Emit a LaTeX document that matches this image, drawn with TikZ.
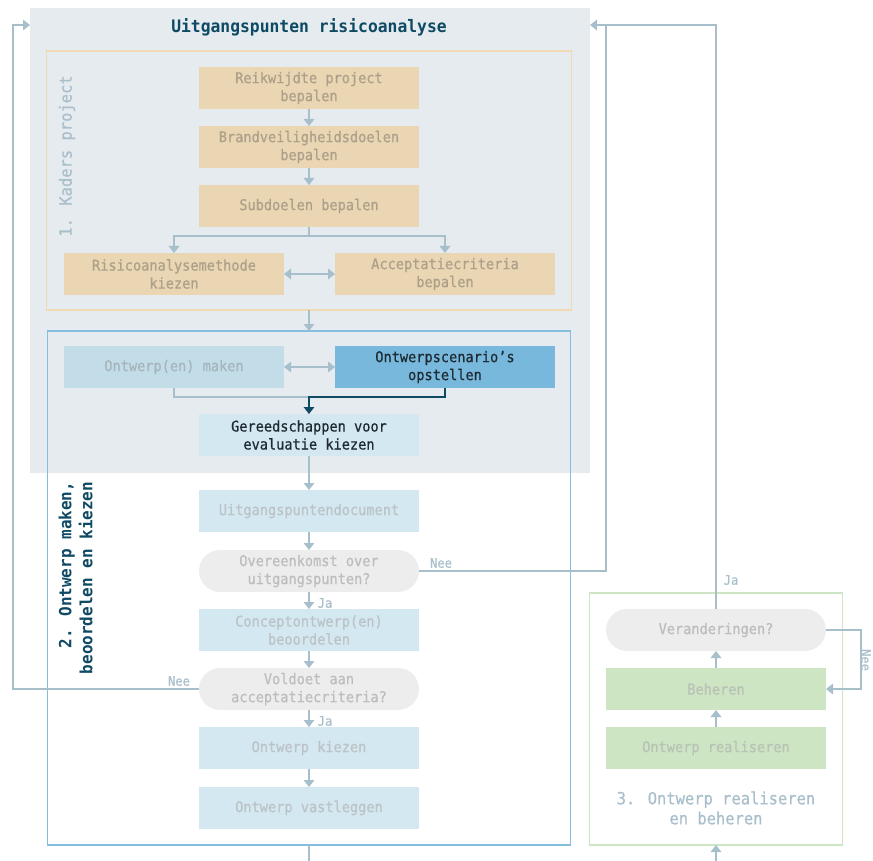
\documentclass[tikz,border=0pt]{standalone}
\usepackage{fontspec}
\newfontfamily\dmono{DejaVu Sans Mono}[FakeStretch=0.92, FakeBold=0.6]
\newfontfamily\dmonob{DejaVu Sans Mono Bold}[FakeStretch=0.95]
\usetikzlibrary{arrows.meta}

\definecolor{panelbg}{HTML}{E5EBEF}
\definecolor{tealdark}{HTML}{0E4A63}
\definecolor{inkdark}{HTML}{1F2B33}
\definecolor{connc}{HTML}{A6BFCB}
\definecolor{labelc}{HTML}{A9BFCB}
\definecolor{orfill}{HTML}{EBD6B3}
\definecolor{orline}{HTML}{F0D9B3}
\definecolor{ortext}{HTML}{ADA08A}
\definecolor{blfill}{HTML}{D4E8F2}
\definecolor{bltext}{HTML}{BCC3C6}
\definecolor{blmid}{HTML}{C2DCE8}
\definecolor{blmidtext}{HTML}{A6B5BD}
\definecolor{blstrong}{HTML}{78B8DC}
\definecolor{blline}{HTML}{85BDDD}
\definecolor{pillfill}{HTML}{EDEDED}
\definecolor{pilltext}{HTML}{BDBDBD}
\definecolor{grfill}{HTML}{CDE5C2}
\definecolor{grtext}{HTML}{B9C2B6}

\begin{document}
\begin{tikzpicture}[x=1pt,y=-1pt,
  font=\dmono\fontsize{14.8}{18}\selectfont,
  stepbox/.style={minimum width=220pt, minimum height=42pt, inner sep=0pt,
    outer sep=0pt, align=center},
  orbox/.style={stepbox, fill=orfill, text=ortext},
  blbox/.style={stepbox, fill=blfill, text=bltext},
  pill/.style={stepbox, fill=pillfill, text=pilltext, rounded corners=21pt},
  grbox/.style={stepbox, fill=grfill, text=grtext},
  frame/.style={anchor=north west, inner sep=0pt, outer sep=0pt, line width=1.4pt},
  link/.style={draw=connc, line width=1.6pt},
  flow/.style={link, -{Triangle[length=7pt,width=10.5pt]}},
  flowboth/.style={link, {Triangle[length=7pt,width=10.5pt]}-{Triangle[length=7pt,width=10.5pt]}},
  darkflow/.style={draw=tealdark, line width=1.6pt, -{Triangle[length=7pt,width=10.5pt]}},
  tag/.style={font=\dmono\fontsize{13.2}{15}\selectfont, text=labelc, inner sep=0pt},
  phaselabel/.style={font=\dmono\fontsize{16.8}{20}\selectfont, text=labelc, inner sep=0pt}
]
\useasboundingbox (0,0) rectangle (873,861);

% Panels
\node[frame, fill=panelbg, minimum width=560pt, minimum height=465pt] (panel) at (30,8) {};
\node[frame, draw=orline, minimum width=525pt, minimum height=259pt] (ph1) at (46.5,51) {};
\node[frame, draw=blline, minimum width=523pt, minimum height=514pt] (ph2) at (47.5,331) {};
\node[frame, draw=grfill, line width=1.6pt, minimum width=253pt, minimum height=252pt] (ph3) at (589.5,593) {};

\node[font=\dmonob\fontsize{17.2}{20}\selectfont, text=tealdark] (title) at (309,27) {Uitgangspunten risicoanalyse};
\node[phaselabel, rotate=90] (lab1) at (67,156) {1. Kaders project};
\node[font=\dmonob\fontsize{16.8}{21}\selectfont, text=tealdark, rotate=90, align=right, inner sep=0pt] (lab2) at (75.5,578) {2. Ontwerp maken,\\beoordelen en kiezen};
\node[phaselabel, align=center] (lab3) at (716,808) {3. Ontwerp realiseren\\en beheren};

% Phase 1 steps
\node[orbox] (r1) at (309,88) {Reikwijdte project\\bepalen};
\node[orbox] (r2) at (309,147) {Brandveiligheidsdoelen\\bepalen};
\node[orbox] (r3) at (309,206) {Subdoelen bepalen};
\node[orbox] (r4) at (174,274) {Risicoanalysemethode\\kiezen};
\node[orbox] (r5) at (445,274) {Acceptatiecriteria\\bepalen};

% Phase 2 steps
\node[stepbox, fill=blmid, text=blmidtext] (o1) at (174,367) {Ontwerp(en) maken};
\node[stepbox, fill=blstrong, text=inkdark] (o2) at (445,367) {Ontwerpscenario’s\\opstellen};
\node[stepbox, fill=blfill, text=inkdark] (g) at (309,435) {Gereedschappen voor\\evaluatie kiezen};
\node[blbox] (u) at (309,511) {Uitgangspuntendocument};
\node[pill] (q1) at (309,571) {Overeenkomst over\\uitgangspunten?};
\node[blbox] (c) at (309,630) {Conceptontwerp(en)\\beoordelen};
\node[pill] (q2) at (309,689) {Voldoet aan\\acceptatiecriteria?};
\node[blbox] (k) at (309,748) {Ontwerp kiezen};
\node[blbox] (v) at (309,808) {Ontwerp vastleggen};

% Phase 3 steps
\node[pill] (q3) at (716,630) {Veranderingen?};
\node[grbox] (b) at (716,689) {Beheren};
\node[grbox] (w) at (716,748) {Ontwerp realiseren};

% Helper points
\coordinate (panelL) at (30,25);
\coordinate (panelR) at (590,25);
\coordinate (bendL) at (13,25);
\coordinate (bendR) at (606,25);
\coordinate (join) at (309,397);
\coordinate (outL) at (309,861);
\coordinate (inR) at (716,861);

% Phase 1 connectors
\draw[flow] (r1) -- (r2);
\draw[flow] (r2) -- (r3);
\draw[flow] (r3.south) -- ++(0,9) -| (r4);
\draw[flow] (r3.south) -- ++(0,9) -| (r5);
\draw[flowboth] (r4) -- (r5);
\draw[flow] (ph1.south) -- (ph2.north);

% Phase 2 connectors
\draw[flowboth] (o1) -- (o2);
\draw[link] (o1.south) |- (join);
\draw[darkflow] (o2.south) |- (join) -- (g.north);
\draw[flow] (g) -- (u);
\draw[flow] (u) -- (q1);
\draw[flow] (q1) -- (c);
\draw[flow] (c) -- (q2);
\draw[flow] (q2) -- (k);
\draw[flow] (k) -- (v);
\draw[link] (ph2.south) -- (outL);

% Feedback loops
\draw[flow] (q1.east) -| (bendR) -- (panelR);
\draw[link] (q3.north) |- (bendR);
\draw[flow] (q2.west) -| (bendL) -- (panelL);
\draw[flow] (q3.east) -- ++(35,0) |- (b.east);

% Phase 3 connectors
\draw[flow] (inR) -- (ph3.south);
\draw[flow] (w) -- (b);
\draw[flow] (b) -- (q3);

% Decision labels
\node[tag] (nee1) at (441,563) {Nee};
\node[tag] (ja1) at (325,603) {Ja};
\node[tag] (nee2) at (179,681) {Nee};
\node[tag] (ja2) at (325,721) {Ja};
\node[tag] (ja3) at (731,580) {Ja};
\node[tag, rotate=-90] (nee3) at (866,660) {Nee};
\end{tikzpicture}
\end{document}
